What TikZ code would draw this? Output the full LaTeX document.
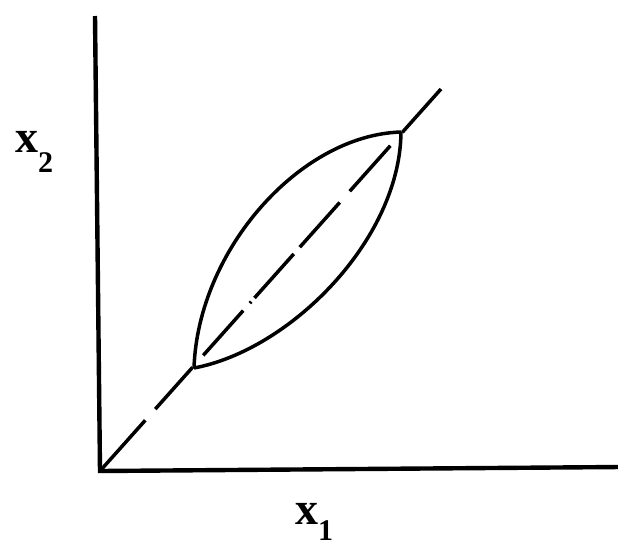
\documentclass[tikz,border=0pt]{standalone}
\usepackage{fontspec}
\setmainfont{Liberation Serif}
\begin{document}
\begin{tikzpicture}[x=1pt,y=-1pt,
  axis/.style={line width=4.4pt},
  curve/.style={line width=3.5pt},
  diag/.style={line width=3.5pt,
    dash pattern=on 68pt off 15pt on 56pt off 16pt on 60pt off 10pt on 2pt off 5pt on 59pt off 9pt on 60pt off 15pt on 61pt off 18pt on 70pt},
  lbl/.style={inner sep=0pt,anchor=base west}]
\useasboundingbox (0,0) rectangle (618,550);
\coordinate (Ytop) at (95,16);
\coordinate (O) at (100,471);
\coordinate (Xend) at (620,467);
\coordinate (B) at (194,368);
\coordinate (T) at (401,132);
\coordinate (E) at (441,89);
% axes
\draw[axis] (Ytop) -- (O) -- (Xend);
% diagonal
\draw[diag] (O) -- (E);
% lens
\draw[curve] (B) .. controls (198,250) and (300,135) .. (T);
\draw[curve] (B) .. controls (290,350) and (400,240) .. (T);
% labels
\node[lbl] (lx2) at (15,152) {\fontsize{46}{46}\selectfont\bfseries x\raisebox{-20pt}{\fontsize{30}{30}\selectfont 2}};
\node[lbl] (lx1) at (295,524) {\fontsize{46}{46}\selectfont\bfseries x\raisebox{-16pt}{\fontsize{30}{30}\selectfont 1}};
\end{tikzpicture}
\end{document}
